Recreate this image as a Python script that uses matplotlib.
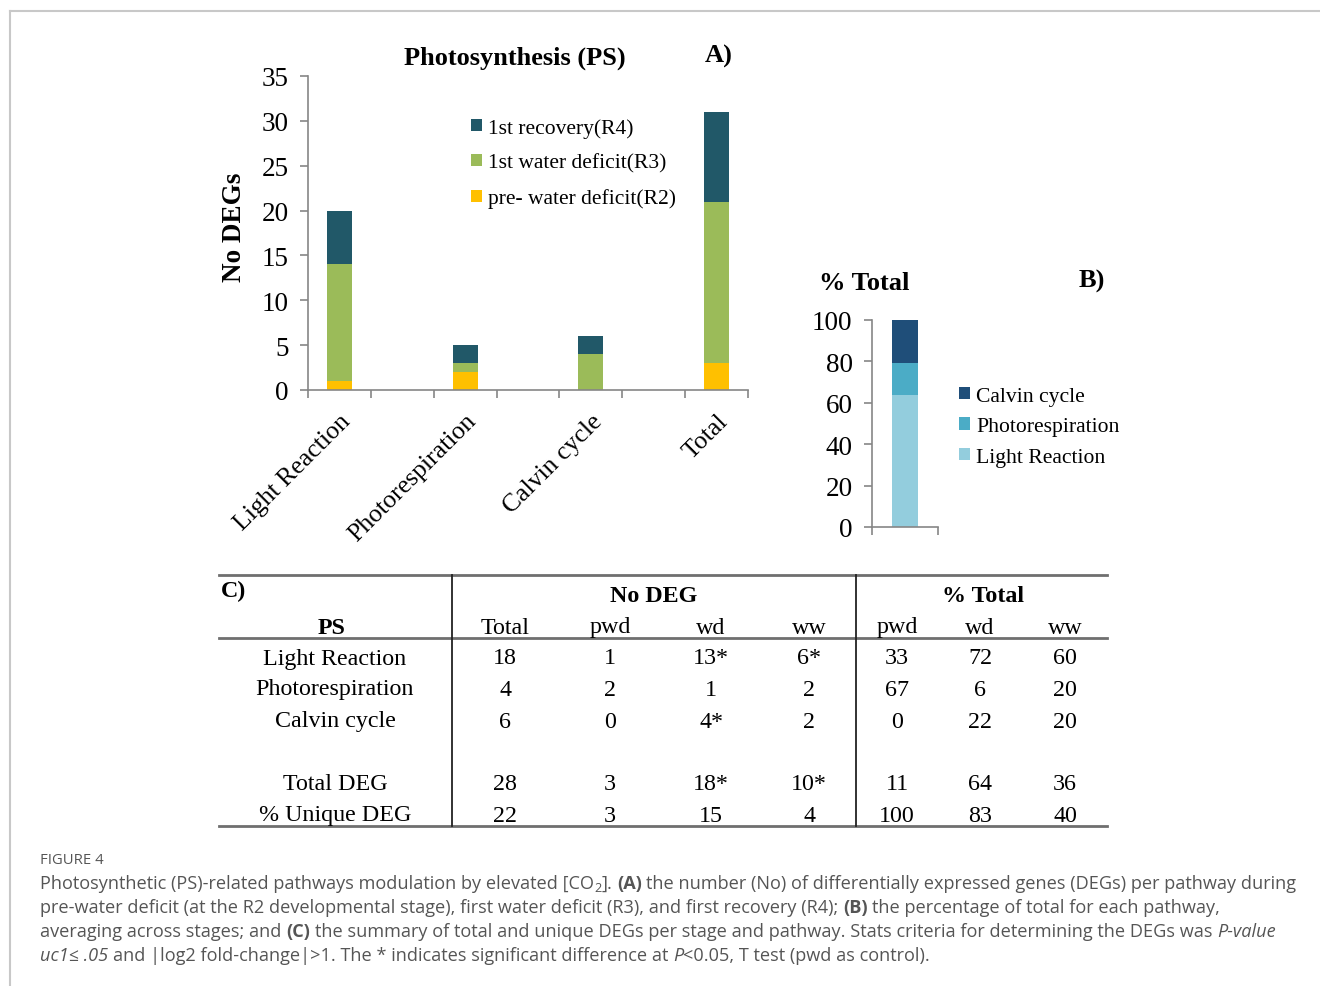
import numpy as np
import matplotlib
matplotlib.use("Agg")
import matplotlib.pyplot as plt
from matplotlib.transforms import ScaledTranslation

# ---- data ----
categories = ["Light Reaction", "Photorespiration", "Calvin cycle", "Total"]
r2_pre_wd = [1, 2, 0, 3]
r3_wd = [13, 1, 4, 18]
r4_recovery = [6, 2, 2, 10]
series_labels = ["pre- water deficit(R2)", "1st water deficit(R3)", "1st recovery(R4)"]

pct_labels = ["Light Reaction", "Photorespiration", "Calvin cycle"]
pct_values = [64, 15, 21]

table_cols = ["PS", "Total", "pwd", "wd", "ww", "pwd", "wd", "ww"]
table_rows = ["Light Reaction", "Photorespiration", "Calvin cycle", "", "Total DEG", "% Unique DEG"]
table_vals = [
    ["18", "1", "13*", "6*", "33", "72", "60"],
    ["4", "2", "1", "2", "67", "6", "20"],
    ["6", "0", "4*", "2", "0", "22", "20"],
    ["", "", "", "", "", "", ""],
    ["28", "3", "18*", "10*", "11", "64", "36"],
    ["22", "3", "15", "4", "100", "83", "40"],
]

SERIF = "Liberation Serif"
W, H = 1320, 987
fig = plt.figure(figsize=(W / 100, H / 100), dpi=100)

def fbox(x0, y0, x1, y1):
    # pixel box (top-left origin) -> figure fraction rect
    return [x0 / W, 1 - y1 / H, (x1 - x0) / W, (y1 - y0) / H]

axis_gray = "#868686"

# ---- panel A ----
axA = fig.add_axes(fbox(308, 77, 748, 391))
xpos = np.arange(len(categories)) * 2
colors_A = ["#FFC000", "#9BBB59", "#215868"]
bottom = np.zeros(len(categories))
bars = []
for vals, col, lab in zip([r2_pre_wd, r3_wd, r4_recovery], colors_A, series_labels):
    b = axA.bar(xpos, vals, 0.4, bottom=bottom, color=col, label=lab)
    bars.append(b)
    bottom = bottom + np.array(vals)
axA.set_xlim(-0.5, 6.5)
axA.set_ylim(0, 35)
axA.set_yticks(np.arange(0, 36, 5))
axA.set_xticks(xpos)
axA.set_xticklabels(categories, rotation=45, ha="right", rotation_mode="anchor",
                    fontsize=18.5, family=SERIF)
shift = ScaledTranslation(-5 / 100, -3 / 100, fig.dpi_scale_trans)
for lbl in axA.get_xticklabels():
    lbl.set_transform(lbl.get_transform() + shift)
axA.set_xticks(np.arange(-0.5, 7, 1), minor=True)
axA.tick_params(axis="x", which="major", length=0, pad=14)
axA.tick_params(axis="x", which="minor", length=6, color=axis_gray, width=1.2)
axA.tick_params(axis="y", length=6, color=axis_gray, width=1.2, labelsize=19.5, pad=8)
for lbl in axA.get_yticklabels():
    lbl.set_family(SERIF)
for s in ["top", "right"]:
    axA.spines[s].set_visible(False)
for s in ["left", "bottom"]:
    axA.spines[s].set_color(axis_gray)
    axA.spines[s].set_linewidth(1.2)
axA.set_ylabel("No DEGs", fontsize=19.5, fontweight="bold", family=SERIF)
axA.yaxis.set_label_coords(-0.139, 0.52)
axA.legend(handles=bars[::-1], loc="upper left",
           bbox_to_anchor=(471 / W, 1 - 119 / H), bbox_transform=fig.transFigure,
           frameon=False, borderpad=0, borderaxespad=0, handlelength=0.5,
           handleheight=0.5, handletextpad=0.3, labelspacing=0.73,
           prop={"family": SERIF, "size": 15.5})

# ---- panel B ----
axB = fig.add_axes(fbox(872, 321, 938, 528))
bottom = 0
colors_B = ["#93CDDD", "#4BACC6", "#1F4E79"]
bars_B = []
for v, col, lab in zip(pct_values, colors_B, pct_labels):
    b = axB.bar([0], [v], 0.4, bottom=bottom, color=col, label=lab)
    bars_B.append(b)
    bottom += v
axB.set_xlim(-0.5, 0.5)
axB.set_ylim(0, 100)
axB.set_yticks(np.arange(0, 101, 20))
axB.set_xticks([-0.5, 0.5])
axB.set_xticklabels([])
axB.tick_params(axis="x", length=6, color=axis_gray, width=1.2)
axB.tick_params(axis="y", length=6, color=axis_gray, width=1.2, labelsize=19.5, pad=8)
for lbl in axB.get_yticklabels():
    lbl.set_family(SERIF)
for s in ["top", "right"]:
    axB.spines[s].set_visible(False)
for s in ["left", "bottom"]:
    axB.spines[s].set_color(axis_gray)
    axB.spines[s].set_linewidth(1.2)
axB.legend(handles=bars_B[::-1], loc="upper left",
           bbox_to_anchor=(959 / W, 1 - 388 / H), bbox_transform=fig.transFigure,
           frameon=False, borderpad=0, borderaxespad=0, handlelength=0.5,
           handleheight=0.5, handletextpad=0.3, labelspacing=0.52,
           prop={"family": SERIF, "size": 15.6})

# ---- overlay in pixel coordinates: titles, table, caption, frame ----
bg = fig.add_axes([0, 0, 1, 1], zorder=-1)
bg.set_xlim(0, W)
bg.set_ylim(H, 0)
bg.axis("off")
bg.patch.set_alpha(0)

bg.plot([10, W], [12, 12], color="#c8c8c8", lw=1.5)
bg.plot([10, 10], [12, H], color="#c8c8c8", lw=1.5)

bg.text(515, 58, "Photosynthesis (PS)", fontsize=19, fontweight="bold", family=SERIF,
        ha="center", va="center")
bg.text(719, 56, "A)", fontsize=19, fontweight="bold", family=SERIF, ha="center", va="center")
bg.text(864, 283, "% Total", fontsize=19, fontweight="bold", family=SERIF, ha="center", va="center")
bg.text(1092, 281, "B)", fontsize=19, fontweight="bold", family=SERIF, ha="center", va="center")

# table C
tfs = 17.3
line_c = "#6f6f6f"
bg.plot([219, 1107], [576, 576], color=line_c, lw=2)
bg.plot([219, 1107], [639, 639], color=line_c, lw=2)
bg.plot([219, 1107], [827, 827], color=line_c, lw=2)
bg.plot([452, 452], [576, 827], color="#222222", lw=1.3)
bg.plot([856, 856], [576, 827], color="#222222", lw=1.3)
bg.text(221, 591, "C)", fontsize=tfs, fontweight="bold", family=SERIF, ha="left", va="center")
bg.text(654, 596, "No DEG", fontsize=tfs, fontweight="bold", family=SERIF, ha="center", va="center")
bg.text(983, 596, "% Total", fontsize=tfs, fontweight="bold", family=SERIF, ha="center", va="center")
col_x = [332, 505, 610, 711, 809, 897, 980, 1065]
for i, (cx, name) in enumerate(zip(col_x, table_cols)):
    bg.text(cx, 628, name, fontsize=tfs, family=SERIF, ha="center", va="center",
            fontweight="bold" if i == 0 else "normal")
row_y = [659, 690, 722, 753, 785, 816]
for ry, rname, rvals in zip(row_y, table_rows, table_vals):
    bg.text(335, ry, rname, fontsize=tfs, family=SERIF, ha="center", va="center")
    for cx, v in zip(col_x[1:], rvals):
        bg.text(cx, ry, v, fontsize=tfs, family=SERIF, ha="center", va="center")

# caption
cap_c = "#555555"
CAP = "Open Sans"
cfs = 13.1
bg.text(40, 861, "FIGURE 4", fontsize=10.7, family=CAP, color=cap_c, ha="left", va="center")

fig.canvas.draw()
renderer = fig.canvas.get_renderer()

def text_w(s, **kw):
    t = bg.text(0, 0, s, fontsize=cfs, family=CAP, **kw)
    w = t.get_window_extent(renderer).width
    t.remove()
    return w

space_w = text_w("x x") - text_w("xx")

def rich_line(x, y, pieces):
    for s, style in pieces:
        kw = {}
        size = cfs
        dy = 0
        if "b" in style:
            kw["fontweight"] = "bold"
        if "i" in style:
            kw["fontstyle"] = "italic"
        if "s" in style:
            size = cfs * 0.7
            dy = 4
        lead = len(s) - len(s.lstrip(" "))
        trail = len(s) - len(s.rstrip(" "))
        core = s.strip(" ")
        x += lead * space_w
        t = bg.text(x, y + dy, core, fontsize=size, family=CAP, color=cap_c,
                    ha="left", va="center", **kw)
        x += t.get_window_extent(renderer).width + trail * space_w

rich_line(40, 884, [("Photosynthetic (PS)-related pathways modulation by elevated [CO", ""),
                    ("2", "s"), ("]. ", ""), ("(A)", "b"),
                    (" the number (No) of differentially expressed genes (DEGs) per pathway during", "")])
rich_line(40, 908, [("pre-water deficit (at the R2 developmental stage), first water deficit (R3), and first recovery (R4); ", ""),
                    ("(B)", "b"), (" the percentage of total for each pathway,", "")])
rich_line(40, 932, [("averaging across stages; and ", ""), ("(C)", "b"),
                    (" the summary of total and unique DEGs per stage and pathway. Stats criteria for determining the DEGs was ", ""),
                    ("P-value", "i")])
rich_line(40, 956, [("uc1\u2264 .05", "i"), (" and |log2 fold-change|>1. The * indicates significant difference at ", ""),
                    ("P", "i"), ("<0.05, T test (pwd as control).", "")])

fig.savefig("out.png", dpi=100)
